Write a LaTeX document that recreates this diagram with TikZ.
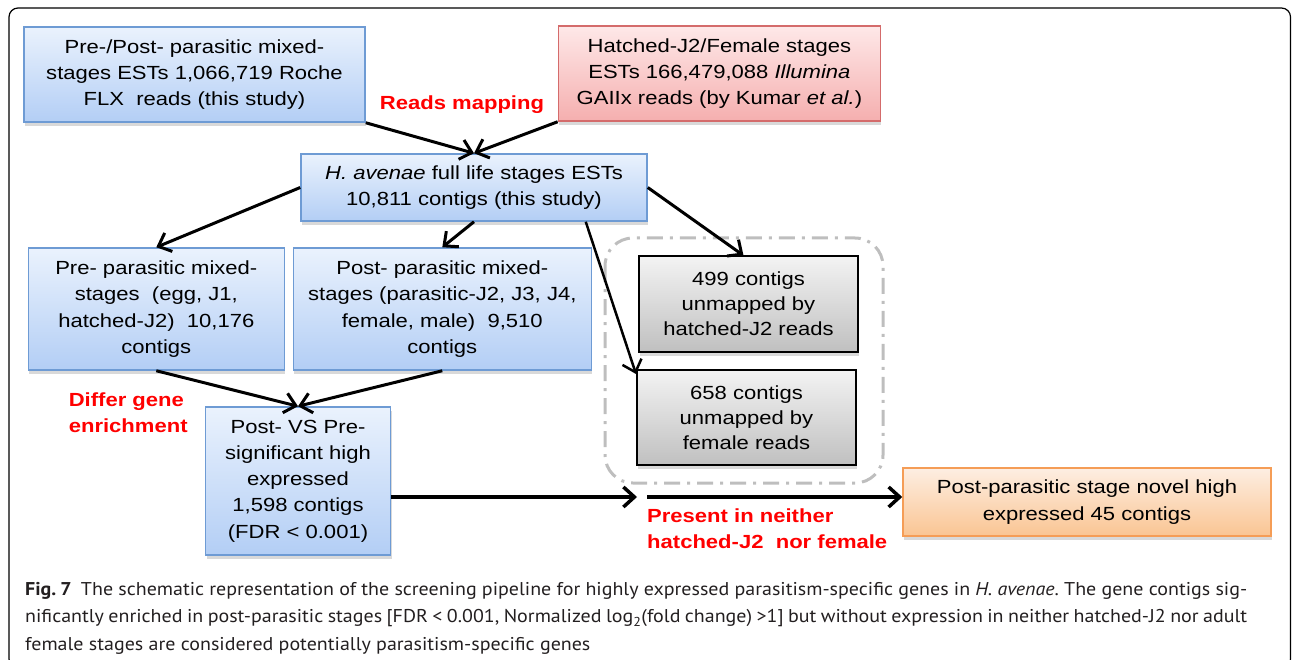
\documentclass[tikz,border=0pt]{standalone}
\usepackage{fontspec}
\setmainfont{Liberation Sans}[FakeStretch=1.16]
\newfontfamily\capfont{PT Sans}[FakeStretch=1.08]
\usetikzlibrary{arrows.meta,shadows}

\definecolor{bluedge}{HTML}{6E9BD4}
\definecolor{bluetop}{HTML}{EAF2FD}
\definecolor{bluebot}{HTML}{B3CEF5}
\definecolor{rededge}{HTML}{D46B6B}
\definecolor{redtop}{HTML}{FEE8E8}
\definecolor{redbot}{HTML}{F5AFAF}
\definecolor{greytop}{HTML}{F3F3F3}
\definecolor{greybot}{HTML}{C0C0C0}
\definecolor{orngedge}{HTML}{F59D56}
\definecolor{orngtop}{HTML}{FDEEE2}
\definecolor{orngbot}{HTML}{FAC593}
\definecolor{dashgrey}{HTML}{BEBEBE}
\definecolor{captxt}{HTML}{231F20}

\tikzset{
  box/.style={rectangle, line width=1.5pt, inner sep=0pt, align=center,
    font=\fontsize{19}{26.3}\selectfont,
    drop shadow={shadow xshift=1pt, shadow yshift=-4pt, opacity=.3}},
  bluebox/.style={box, draw=bluedge, top color=bluetop, bottom color=bluebot},
  redbox/.style={box, draw=rededge, top color=redtop, bottom color=redbot},
  greybox/.style={box, draw=black, line width=2pt, top color=greytop, bottom color=greybot,
    font=\fontsize{19}{25}\selectfont},
  orngbox/.style={box, draw=orngedge, top color=orngtop, bottom color=orngbot},
  link/.style={-{Straight Barb[length=11pt,width=20pt]}, line width=3pt},
  redlbl/.style={text=red, inner sep=0pt, font=\bfseries\fontsize{19}{25.5}\selectfont},
  grouping/.style={draw=dashgrey, line width=3pt, rounded corners=28pt,
    dash pattern=on 16pt off 7pt on 3pt off 7pt}
}

\begin{document}
\begin{tikzpicture}[x=1pt,y=-1pt]
\useasboundingbox (0,0) rectangle (1292,660);
\draw[line width=1.2pt, rounded corners=9pt] (9,8) rectangle (1290.5,668);

\node[bluebox, minimum width=341pt, minimum height=95pt] (mixed) at (194.5,74.5)
  {Pre-/Post- parasitic mixed-\\stages ESTs 1,066,719 Roche\\FLX\ \ reads (this study)};
\node[redbox, minimum width=322pt, minimum height=95pt] (kumar) at (719.4,73.5)
  {Hatched-J2/Female stages\\ESTs 166,479,088 \textit{Illumina}\\GAIIx reads (by Kumar \textit{et al.})};
\node[bluebox, minimum width=346pt, minimum height=67pt] (full) at (474,187.5)
  {\textit{H. avenae} full life stages ESTs\\10,811 contigs (this study)};
\node[bluebox, minimum width=256pt, minimum height=122pt] (pre) at (156.3,309)
  {Pre- parasitic mixed-\\stages\ \ (egg, J1,\\hatched-J2)\ \ 10,176\\contigs};
\node[bluebox, minimum width=298pt, minimum height=122pt] (post) at (442.3,309)
  {Post- parasitic mixed-\\stages (parasitic-J2, J3, J4,\\female, male)\ \ 9,510\\contigs};

\draw[grouping] (605,238) rectangle (883,483);
\node[greybox, minimum width=219pt, minimum height=95pt] (unhatch) at (748.5,304)
  {499 contigs\\unmapped by\\hatched-J2 reads};
\node[greybox, minimum width=219pt, minimum height=95pt] (unfemale) at (746.5,417.5)
  {658 contigs\\unmapped by\\female reads};

\node[bluebox, minimum width=185pt, minimum height=148pt] (sig) at (298,481)
  {Post- VS Pre-\\significant high\\expressed\\1,598 contigs\\(FDR < 0.001)};
\node[orngbox, minimum width=368pt, minimum height=68pt] (novel) at (1087,502)
  {Post-parasitic stage novel high\\expressed 45 contigs};

\node[redlbl, anchor=base] (mapping) at (462,110) {Reads mapping};
\node[redlbl, anchor=north west, align=left] (enrich) at (68.6,393) {Differ gene\\enrichment};
\node[redlbl, anchor=north west, align=left] (neither) at (647,509) {Present in neither\\hatched-J2\ \ nor female};

\coordinate (gapl) at (637,497);
\coordinate (gapr) at (647,497);

\draw[link] (mixed.south east) -- (full.north);
\draw[link] (kumar.south west) -- (full.north);
\draw[link] (full.west) -- (pre.north);
\draw[link] (full.south) -- (post.north);
\draw[link] (full.east) -- ([xshift=-5pt]unhatch.north);
\draw[link, line width=2.5pt] ([xshift=-62pt]full.south east) -- ([yshift=-5pt]unfemale.north west);
\draw[link] (pre.south) -- (sig.north);
\draw[link] (post.south) -- (sig.north);
\draw[link, line width=3.5pt] (sig.east |- gapl) -- (gapl);
\draw[link, line width=3.5pt] (gapr) -- (novel.west |- gapr);

\node[anchor=north west, inner sep=0pt, text width=1222pt, align=justify, text=captxt,
  font=\capfont\fontsize{18.5}{27.5}\selectfont] (caption) at (25,582)
  {\hyphenpenalty=10000\frenchspacing {\bfseries Fig.\hspace{0.22em}7}\hspace{0.5em}The schematic representation of the screening pipeline for highly expressed parasitism-specific genes in \textit{H. avenae}. The gene contigs sig-\linebreak nificantly enriched in post-parasitic stages [FDR < 0.001, Normalized log\textsubscript{2}(fold change) >1] but without expression in neither hatched-J2 nor adult\linebreak female stages are considered potentially parasitism-specific genes};
\end{tikzpicture}
\end{document}
